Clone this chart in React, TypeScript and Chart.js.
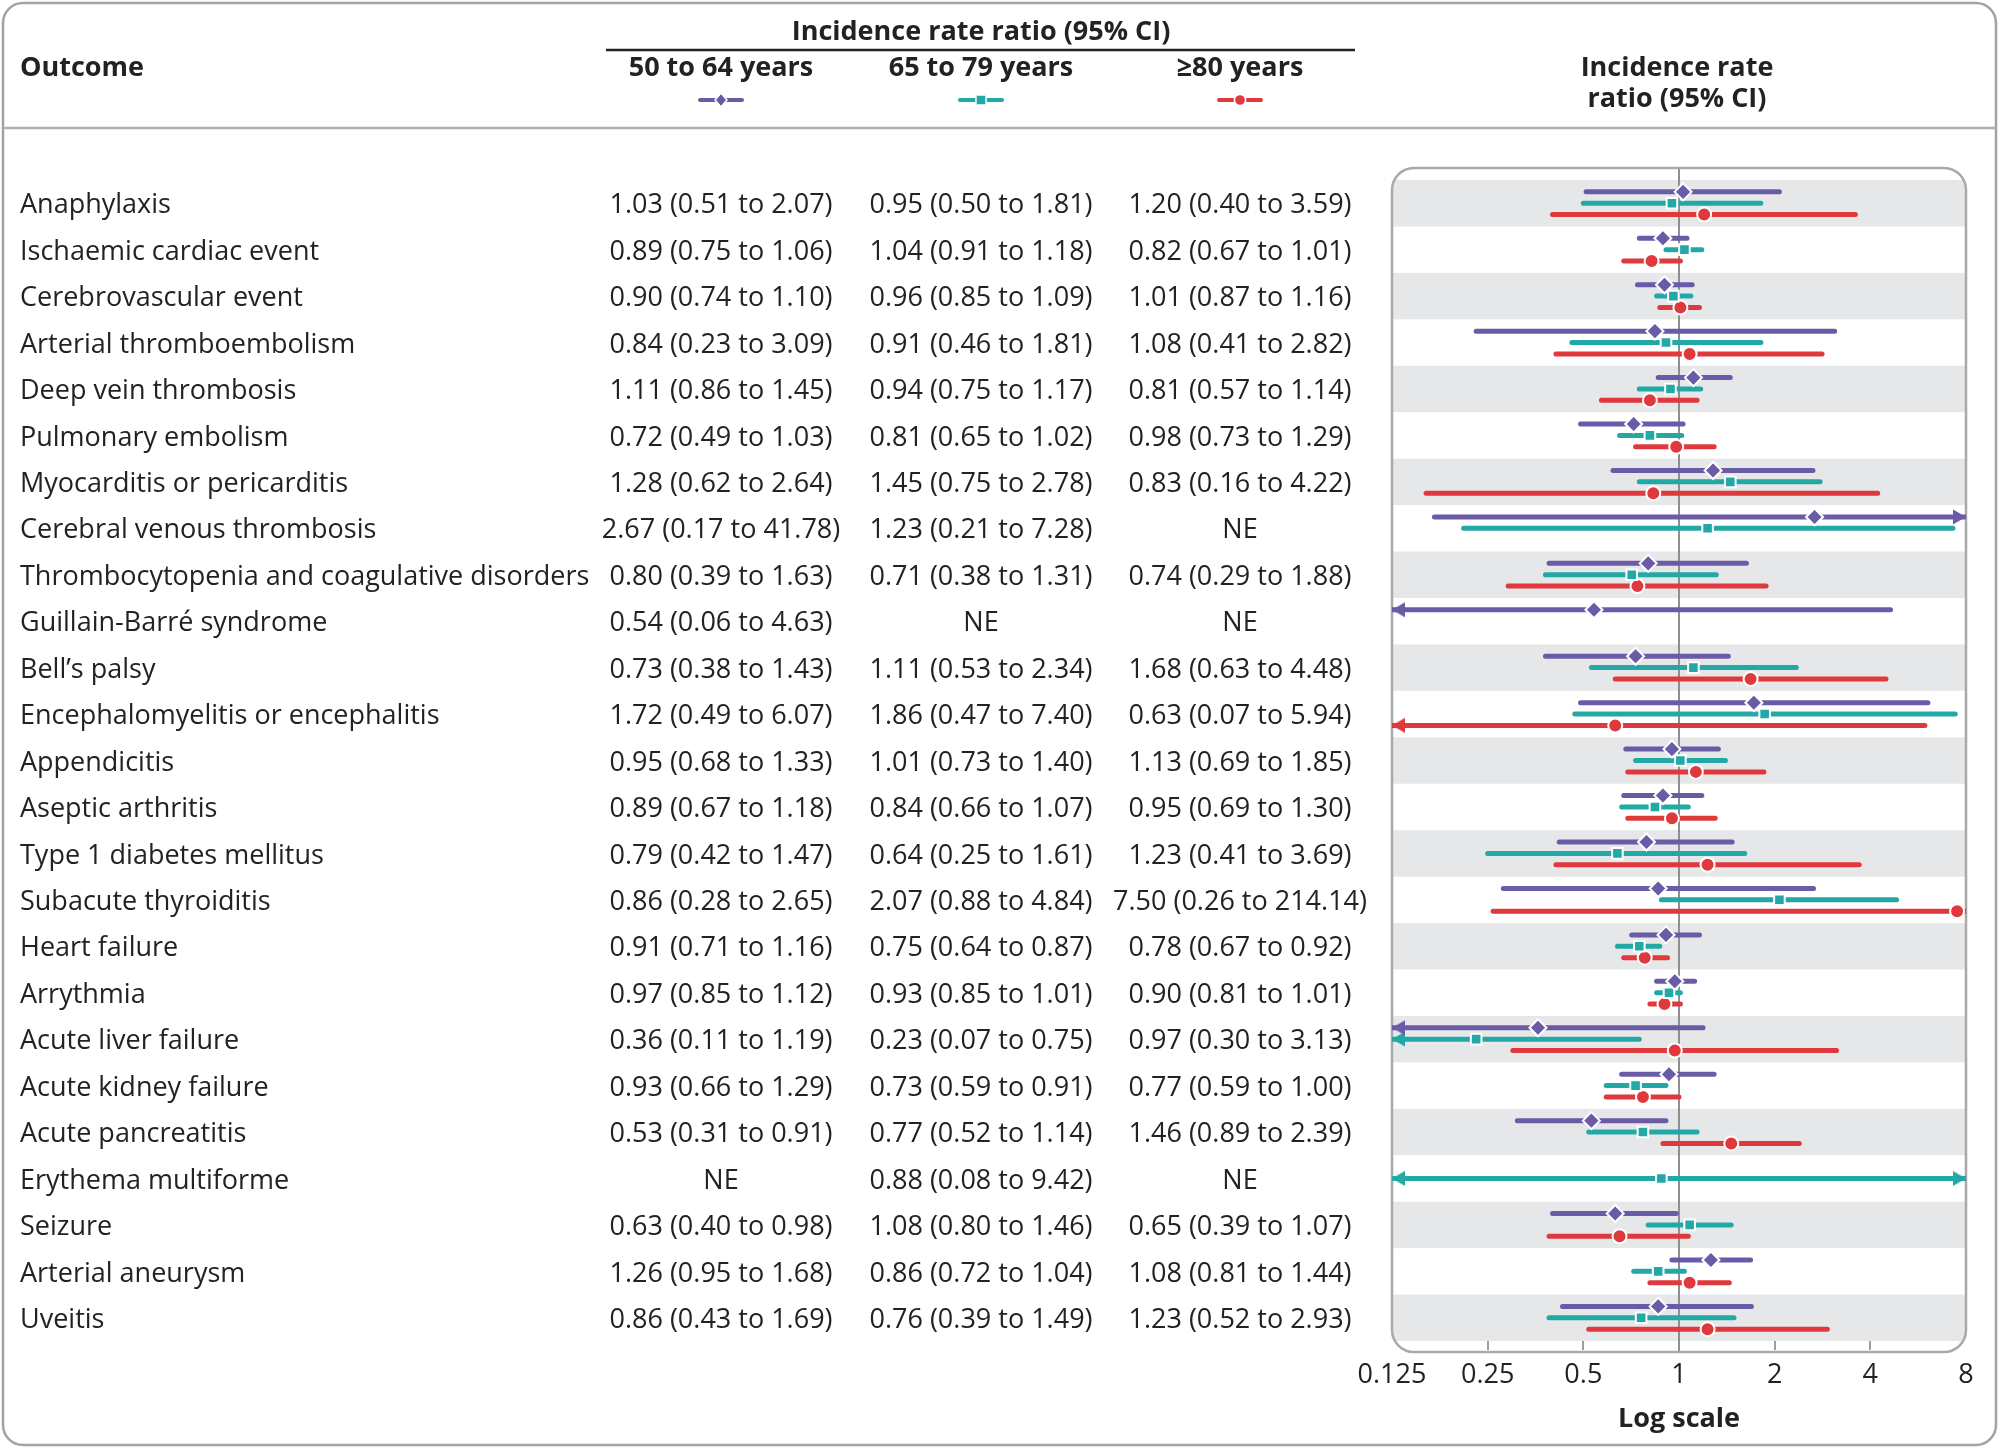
import React, { useEffect, useRef } from 'react';
import { Chart, registerables } from 'chart.js';

Chart.register(...registerables);

// ---------- DATA ----------
const outcomes = [
  'Anaphylaxis',
  'Ischaemic cardiac event',
  'Cerebrovascular event',
  'Arterial thromboembolism',
  'Deep vein thrombosis',
  'Pulmonary embolism',
  'Myocarditis or pericarditis',
  'Cerebral venous thrombosis',
  'Thrombocytopenia and coagulative disorders',
  'Guillain-Barré syndrome',
  'Bell’s palsy',
  'Encephalomyelitis or encephalitis',
  'Appendicitis',
  'Aseptic arthritis',
  'Type 1 diabetes mellitus',
  'Subacute thyroiditis',
  'Heart failure',
  'Arrythmia',
  'Acute liver failure',
  'Acute kidney failure',
  'Acute pancreatitis',
  'Erythema multiforme',
  'Seizure',
  'Arterial aneurysm',
  'Uveitis',
];

const est50 = [1.03, 0.89, 0.9, 0.84, 1.11, 0.72, 1.28, 2.67, 0.8, 0.54, 0.73, 1.72, 0.95, 0.89, 0.79, 0.86, 0.91, 0.97, 0.36, 0.93, 0.53, null, 0.63, 1.26, 0.86];
const lo50 = [0.51, 0.75, 0.74, 0.23, 0.86, 0.49, 0.62, 0.17, 0.39, 0.06, 0.38, 0.49, 0.68, 0.67, 0.42, 0.28, 0.71, 0.85, 0.11, 0.66, 0.31, null, 0.4, 0.95, 0.43];
const hi50 = [2.07, 1.06, 1.1, 3.09, 1.45, 1.03, 2.64, 41.78, 1.63, 4.63, 1.43, 6.07, 1.33, 1.18, 1.47, 2.65, 1.16, 1.12, 1.19, 1.29, 0.91, null, 0.98, 1.68, 1.69];

const est65 = [0.95, 1.04, 0.96, 0.91, 0.94, 0.81, 1.45, 1.23, 0.71, null, 1.11, 1.86, 1.01, 0.84, 0.64, 2.07, 0.75, 0.93, 0.23, 0.73, 0.77, 0.88, 1.08, 0.86, 0.76];
const lo65 = [0.5, 0.91, 0.85, 0.46, 0.75, 0.65, 0.75, 0.21, 0.38, null, 0.53, 0.47, 0.73, 0.66, 0.25, 0.88, 0.64, 0.85, 0.07, 0.59, 0.52, 0.08, 0.8, 0.72, 0.39];
const hi65 = [1.81, 1.18, 1.09, 1.81, 1.17, 1.02, 2.78, 7.28, 1.31, null, 2.34, 7.4, 1.4, 1.07, 1.61, 4.84, 0.87, 1.01, 0.75, 0.91, 1.14, 9.42, 1.46, 1.04, 1.49];

const est80 = [1.2, 0.82, 1.01, 1.08, 0.81, 0.98, 0.83, null, 0.74, null, 1.68, 0.63, 1.13, 0.95, 1.23, 7.5, 0.78, 0.9, 0.97, 0.77, 1.46, null, 0.65, 1.08, 1.23];
const lo80 = [0.4, 0.67, 0.87, 0.41, 0.57, 0.73, 0.16, null, 0.29, null, 0.63, 0.07, 0.69, 0.69, 0.41, 0.26, 0.67, 0.81, 0.3, 0.59, 0.89, null, 0.39, 0.81, 0.52];
const hi80 = [3.59, 1.01, 1.16, 2.82, 1.14, 1.29, 4.22, null, 1.88, null, 4.48, 5.94, 1.85, 1.3, 3.69, 214.14, 0.92, 1.01, 3.13, 1.0, 2.39, null, 1.07, 1.44, 2.93];

const groupLabels = ['50 to 64 years', '65 to 79 years', '≥80 years'];
const tickValues = [0.125, 0.25, 0.5, 1, 2, 4, 8];
const tickLabels = ['0.125', '0.25', '0.5', '1', '2', '4', '8'];

// ---------- STYLE ----------
const AXIS_MIN = 0.125;
const AXIS_MAX = 8;
const colors = ['#6b5ba7', '#22a9a6', '#e0393d'];
const markers = ['rectRot', 'rect', 'circle'];
const markerRadius = [8.5, 7.5, 7];
const rowOffsets = [-0.245, 0, 0.245];
const columnX = [721, 981, 1240];
const FONT = '"Open Sans", "Noto Sans", sans-serif';
const TEXT = '#222222';
const FS = 27;
const TEXT_DY = 2.5;

const series = [
  { est: est50, lo: lo50, hi: hi50 },
  { est: est65, lo: lo65, hi: hi65 },
  { est: est80, lo: lo80, hi: hi80 },
];

function fmt(e: number | null, l: number | null, h: number | null) {
  if (e == null || l == null || h == null) return 'NE';
  return `${e.toFixed(2)} (${l.toFixed(2)} to ${h.toFixed(2)})`;
}

function makeArrow(color: string) {
  const L = 14;
  const H = 16;
  const c = document.createElement('canvas');
  c.width = L * 2;
  c.height = H;
  const g = c.getContext('2d')!;
  g.fillStyle = color;
  g.beginPath();
  g.moveTo(L - 13, 0.5);
  g.lineTo(L, H / 2);
  g.lineTo(L - 13, H - 0.5);
  g.closePath();
  g.fill();
  return c;
}

function roundRect(ctx: CanvasRenderingContext2D, x: number, y: number, w: number, h: number, r: number) {
  ctx.beginPath();
  ctx.moveTo(x + r, y);
  ctx.lineTo(x + w - r, y);
  ctx.arcTo(x + w, y, x + w, y + r, r);
  ctx.lineTo(x + w, y + h - r);
  ctx.arcTo(x + w, y + h, x + w - r, y + h, r);
  ctx.lineTo(x + r, y + h);
  ctx.arcTo(x, y + h, x, y + h - r, r);
  ctx.lineTo(x, y + r);
  ctx.arcTo(x, y, x + r, y, r);
  ctx.closePath();
}

function drawMarker(ctx: CanvasRenderingContext2D, kind: string, x: number, y: number, r: number, color: string) {
  ctx.save();
  ctx.fillStyle = color;
  ctx.strokeStyle = '#ffffff';
  ctx.lineWidth = 1.5;
  ctx.beginPath();
  if (kind === 'rectRot') {
    ctx.moveTo(x, y - r);
    ctx.lineTo(x + r * 0.85, y);
    ctx.lineTo(x, y + r);
    ctx.lineTo(x - r * 0.85, y);
    ctx.closePath();
  } else if (kind === 'rect') {
    const s = r * 0.72;
    ctx.rect(x - s, y - s, 2 * s, 2 * s);
  } else {
    ctx.arc(x, y, r * 0.8, 0, Math.PI * 2);
  }
  ctx.fill();
  ctx.stroke();
  ctx.restore();
}

const decorPlugin = {
  id: 'forestDecor',
  beforeDraw(chart: any) {
    const ctx: CanvasRenderingContext2D = chart.ctx;
    const W = chart.width;
    const Hh = chart.height;
    const yScale = chart.scales.y;
    ctx.save();
    ctx.fillStyle = '#ffffff';
    ctx.fillRect(0, 0, W, Hh);

    // outer frame
    ctx.strokeStyle = '#a3a3a3';
    ctx.lineWidth = 2.5;
    roundRect(ctx, 3, 3, W - 7, Hh - 6, 20);
    ctx.stroke();

    // header separator
    ctx.beginPath();
    ctx.moveTo(3, 128);
    ctx.lineTo(W - 4, 128);
    ctx.strokeStyle = '#b0b0b0';
    ctx.lineWidth = 2.5;
    ctx.stroke();

    // header texts
    ctx.fillStyle = TEXT;
    ctx.textBaseline = 'middle';
    ctx.font = `bold ${FS}px ${FONT}`;
    ctx.textAlign = 'center';
    ctx.fillText('Incidence rate ratio (95% CI)', columnX[1], 32.5);
    ctx.beginPath();
    ctx.moveTo(606, 50);
    ctx.lineTo(1355, 50);
    ctx.strokeStyle = TEXT;
    ctx.lineWidth = 2.5;
    ctx.stroke();
    groupLabels.forEach((g, k) => ctx.fillText(g, columnX[k], 68.5));
    ctx.fillText('Incidence rate', 1677, 68);
    ctx.fillText('ratio (95% CI)', 1677, 99);
    ctx.textAlign = 'left';
    ctx.fillText('Outcome', 20, 68.5);

    // legend symbols
    groupLabels.forEach((_, k) => {
      const cx = columnX[k];
      ctx.beginPath();
      ctx.moveTo(cx - 21, 100);
      ctx.lineTo(cx + 21, 100);
      ctx.strokeStyle = colors[k];
      ctx.lineWidth = 4;
      ctx.lineCap = 'round';
      ctx.stroke();
      drawMarker(ctx, markers[k], cx, 100, 7, colors[k]);
    });

    // row labels and value texts
    ctx.font = `${FS}px ${FONT}`;
    ctx.fillStyle = TEXT;
    outcomes.forEach((name, i) => {
      const py = yScale.getPixelForValue(i) + TEXT_DY;
      ctx.textAlign = 'left';
      ctx.fillText(name, 20, py);
      ctx.textAlign = 'center';
      series.forEach((s, k) => {
        ctx.fillText(fmt(s.est[i], s.lo[i], s.hi[i]), columnX[k], py);
      });
    });
    ctx.restore();
  },
  beforeDatasetsDraw(chart: any) {
    const ctx: CanvasRenderingContext2D = chart.ctx;
    const a = chart.chartArea;
    const yScale = chart.scales.y;
    const xScale = chart.scales.x;
    const fTop = a.top - 12;
    const fBottom = a.bottom + 11;
    ctx.save();
    roundRect(ctx, a.left, fTop, a.right - a.left, fBottom - fTop, 22);
    ctx.save();
    ctx.clip();
    ctx.fillStyle = '#e6e7e8';
    outcomes.forEach((_, i) => {
      if (i % 2 === 0) {
        const t = yScale.getPixelForValue(i - 0.5);
        const b = yScale.getPixelForValue(i + 0.5);
        ctx.fillRect(a.left, t, a.right - a.left, b - t);
      }
    });
    ctx.restore();
    // reference line at 1
    const x1 = xScale.getPixelForValue(1);
    ctx.beginPath();
    ctx.moveTo(x1, fTop);
    ctx.lineTo(x1, fBottom);
    ctx.strokeStyle = '#8f8f8f';
    ctx.lineWidth = 2;
    ctx.stroke();
    // plot frame
    roundRect(ctx, a.left, fTop, a.right - a.left, fBottom - fTop, 22);
    ctx.strokeStyle = '#a9a9a9';
    ctx.lineWidth = 2.5;
    ctx.stroke();
    ctx.restore();
  },
};

export default function App() {
  const ref = useRef<HTMLCanvasElement | null>(null);

  useEffect(() => {
    document.body.style.margin = '0';
    const canvas = ref.current;
    if (!canvas) return;

    const ciDatasets: any[] = [];
    const pointDatasets: any[] = [];
    series.forEach((s, k) => {
      const arrow = makeArrow(colors[k]);
      const data: any[] = [];
      const radius: number[] = [];
      const style: any[] = [];
      const rot: number[] = [];
      const pts: any[] = [];
      s.est.forEach((e, i) => {
        const lo = s.lo[i];
        const hi = s.hi[i];
        if (e == null || lo == null || hi == null) return;
        const y = i + rowOffsets[k];
        data.push({ x: Math.max(lo, AXIS_MIN), y });
        radius.push(lo < AXIS_MIN ? 7 : 0);
        style.push(lo < AXIS_MIN ? arrow : 'circle');
        rot.push(180);
        data.push({ x: Math.min(hi, AXIS_MAX), y });
        radius.push(hi > AXIS_MAX ? 7 : 0);
        style.push(hi > AXIS_MAX ? arrow : 'circle');
        rot.push(0);
        data.push({ x: null, y: null });
        radius.push(0);
        style.push('circle');
        rot.push(0);
        pts.push({ x: e, y });
      });
      ciDatasets.push({
        label: groupLabels[k] + ' CI',
        data,
        borderColor: colors[k],
        backgroundColor: colors[k],
        borderWidth: 5,
        borderCapStyle: 'round',
        fill: false,
        tension: 0,
        spanGaps: false,
        pointRadius: radius,
        pointHoverRadius: radius,
        pointStyle: style,
        pointRotation: rot,
        pointBorderWidth: 0,
        pointBackgroundColor: colors[k],
        clip: 0,
        order: 2,
      });
      pointDatasets.push({
        label: groupLabels[k],
        data: pts,
        showLine: false,
        pointStyle: markers[k],
        pointRadius: markerRadius[k],
        pointHoverRadius: markerRadius[k],
        pointBackgroundColor: colors[k],
        pointBorderColor: '#ffffff',
        pointBorderWidth: 2,
        borderColor: colors[k],
        order: 1,
      });
    });

    const chart = new Chart(canvas, {
      type: 'line',
      data: { datasets: [...ciDatasets, ...pointDatasets] },
      options: {
        responsive: false,
        animation: false,
        events: [],
        layout: { padding: { left: 1392, right: 34, top: 180, bottom: 0 } },
        plugins: {
          legend: { display: false },
          tooltip: { enabled: false },
        },
        scales: {
          x: {
            type: 'logarithmic',
            min: AXIS_MIN,
            max: AXIS_MAX,
            afterBuildTicks: (scale: any) => {
              scale.ticks = tickValues.map((v) => ({ value: v }));
            },
            afterFit: (scale: any) => {
              scale.height = 107;
            },
            ticks: {
              autoSkip: false,
              maxRotation: 0,
              minRotation: 0,
              padding: 9.5,
              color: TEXT,
              font: { family: FONT, size: FS },
              callback: (_v: any, idx: number) => tickLabels[idx],
            },
            grid: {
              drawOnChartArea: false,
              drawTicks: true,
              tickLength: 9,
              lineWidth: 2,
              color: (c: any) => {
                const v = c.tick ? c.tick.value : 0;
                return v === AXIS_MIN || v === AXIS_MAX || v === 1 ? 'rgba(0,0,0,0)' : '#9d9d9d';
              },
            },
            border: { display: false },
            title: {
              display: true,
              text: 'Log scale',
              color: TEXT,
              font: { family: FONT, size: FS, weight: 'bold' },
              padding: { top: 0, bottom: 12 },
            },
          },
          y: {
            type: 'linear',
            min: -0.5,
            max: 24.5,
            reverse: true,
            display: false,
          },
        },
      } as any,
      plugins: [decorPlugin],
    });

    return () => chart.destroy();
  }, []);

  return (
    <div style={{ width: 2000, height: 1448 }}>
      <canvas ref={ref} width={2000} height={1448} style={{ display: 'block', width: 2000, height: 1448 }} />
    </div>
  );
}
